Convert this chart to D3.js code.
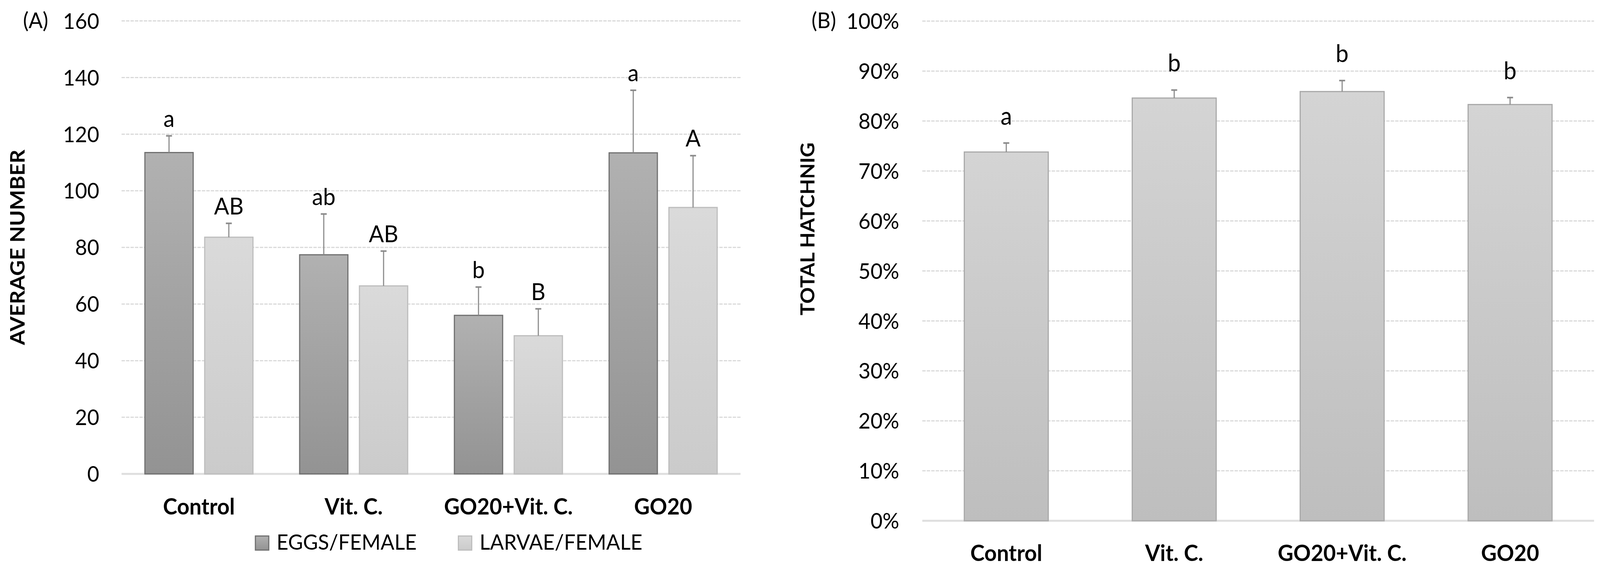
<!DOCTYPE html>
<meta charset="utf-8">
<html>
<head>
<script src="https://cdn.jsdelivr.net/npm/d3@7/dist/d3.min.js"></script>
<style>
  html, body { margin: 0; padding: 0; background: #fff; overflow: hidden; }
  #chart svg { display: block; width: 100vw; height: 100vh; }
  text { font-family: Lato, "Open Sans", sans-serif; fill: #000; }
</style>
</head>
<body>
<div id="chart"></div>
<script>
// ---- data ----
var categories = ["Control", "Vit. C.", "GO20+Vit. C.", "GO20"];
var seriesA = ["EGGS/FEMALE", "LARVAE/FEMALE"];
var eggs = [113.5, 77.4, 56.0, 113.4];
var eggsErr = [5.9, 14.4, 10.0, 22.1];
var larvae = [83.6, 66.4, 48.8, 94.1];
var larvaeErr = [4.9, 12.3, 9.5, 18.3];
var eggsLetters = ["a", "ab", "b", "a"];
var larvaeLetters = ["AB", "AB", "B", "A"];
var ticksA = [0, 20, 40, 60, 80, 100, 120, 140, 160];

var hatching = [0.738, 0.846, 0.859, 0.833];
var hatchingErr = [0.018, 0.016, 0.022, 0.014];
var hatchingLetters = ["a", "b", "b", "b"];
var ticksB = [0, 0.1, 0.2, 0.3, 0.4, 0.5, 0.6, 0.7, 0.8, 0.9, 1.0];

// drawn in the reference's 4304x1459 frame, stretched to whatever viewport we get
var W = 4304, H = 1459;
var svg = d3.select("#chart").append("svg")
  .attr("viewBox", "0 0 " + W + " " + H)
  .attr("preserveAspectRatio", "none");

var defs = svg.append("defs");
function grad(id, top, bottom) {
  var g = defs.append("linearGradient").attr("id", id).attr("x1", 0).attr("y1", 0).attr("x2", 0).attr("y2", 1);
  g.append("stop").attr("offset", "0%").attr("stop-color", top);
  g.append("stop").attr("offset", "100%").attr("stop-color", bottom);
}
grad("gEggs", "#b1b1b1", "#939393");
grad("gLarvae", "#dadada", "#cbcbcb");
grad("gHatch", "#d4d4d4", "#bebebe");

var seriesStyle = [
  { fill: "url(#gEggs)", stroke: "#6f6f6f" },
  { fill: "url(#gLarvae)", stroke: "#bdbdbd" }
];

function gridAndAxis(g, y, ticks, x0, x1, fmt, labelX) {
  g.selectAll(".grid").data(ticks.filter(function (d) { return d > 0; })).enter().append("line")
    .attr("x1", x0).attr("x2", x1).attr("y1", function (d) { return y(d); }).attr("y2", function (d) { return y(d); })
    .style("stroke", "#d9d9d9").style("stroke-width", 3).style("stroke-dasharray", "9,3");
  g.append("line").attr("x1", x0).attr("x2", x1).attr("y1", y(0)).attr("y2", y(0))
    .style("stroke", "#dedede").style("stroke-width", 5);
  g.selectAll(".tick").data(ticks).enter().append("text")
    .attr("x", labelX).attr("y", function (d) { return y(d); }).attr("dy", "0.36em")
    .attr("text-anchor", "end").style("font-size", "56px").text(fmt);
}

function errBar(g, cx, yTop, yErr) {
  g.append("line").attr("x1", cx).attr("x2", cx).attr("y1", yTop).attr("y2", yErr)
    .style("stroke", "#8a8a8a").style("stroke-width", 3);
  g.append("line").attr("x1", cx - 8).attr("x2", cx + 8).attr("y1", yErr).attr("y2", yErr)
    .style("stroke", "#8a8a8a").style("stroke-width", 4);
}

// ================= panel A =================
var gA = svg.append("g");
var xA = d3.scaleBand().domain(categories).range([327, 1992]);
var xA1 = d3.scaleBand().domain(seriesA).range([0, xA.bandwidth()]).paddingInner(0.1925).paddingOuter(0.39);
var yA = d3.scaleLinear().domain([0, 160]).range([1213, 53.5]);

gridAndAxis(gA, yA, ticksA, 327, 1992, d3.format("d"), 267);

var rowsA = categories.map(function (c, i) {
  return [
    { cat: c, s: seriesA[0], k: 0, v: eggs[i], e: eggsErr[i], l: eggsLetters[i] },
    { cat: c, s: seriesA[1], k: 1, v: larvae[i], e: larvaeErr[i], l: larvaeLetters[i] }
  ];
});
var flatA = d3.merge(rowsA);

gA.selectAll(".barA").data(flatA).enter().append("rect")
  .attr("x", function (d) { return xA(d.cat) + xA1(d.s); })
  .attr("y", function (d) { return yA(d.v); })
  .attr("width", xA1.bandwidth())
  .attr("height", function (d) { return yA(0) - yA(d.v); })
  .style("fill", function (d) { return seriesStyle[d.k].fill; })
  .style("stroke", function (d) { return seriesStyle[d.k].stroke; })
  .style("stroke-width", 3);

flatA.forEach(function (d) {
  var cx = xA(d.cat) + xA1(d.s) + xA1.bandwidth() / 2;
  errBar(gA, cx, yA(d.v), yA(d.v + d.e));
  gA.append("text").attr("x", cx).attr("y", yA(d.v + d.e) - 23)
    .attr("text-anchor", "middle").style("font-size", "60px").text(d.l);
});

gA.selectAll(".catA").data(categories).enter().append("text")
  .attr("x", function (d) { return xA(d) + xA.bandwidth() / 2; })
  .attr("y", 1317).attr("text-anchor", "middle")
  .style("font-size", "58px").style("font-weight", "bold").text(function (d) { return d; });

gA.append("text").attr("transform", "translate(66,633) rotate(-90)")
  .attr("text-anchor", "middle").style("font-size", "55px").style("font-weight", "bold").text("AVERAGE NUMBER");

gA.append("text").attr("x", 62).attr("y", 72).style("font-size", "56px").text("(A)");

// legend
var legendX = [687, 1233];
seriesA.forEach(function (s, i) {
  gA.append("rect").attr("x", legendX[i]).attr("y", 1372).attr("width", 36).attr("height", 36)
    .style("fill", seriesStyle[i].fill).style("stroke", seriesStyle[i].stroke).style("stroke-width", 3);
  gA.append("text").attr("x", legendX[i] + 57).attr("y", 1407).style("font-size", "55px").text(s);
});

// ================= panel B =================
var gB = svg.append("g");
var xB = d3.scaleBand().domain(categories).range([2481, 4288]).paddingInner(0.5).paddingOuter(0.25);
var yB = d3.scaleLinear().domain([0, 1]).range([1333, 54]);

gridAndAxis(gB, yB, ticksB, 2481, 4288, d3.format(".0%"), 2419);

var rowsB = categories.map(function (c, i) {
  return { cat: c, v: hatching[i], e: hatchingErr[i], l: hatchingLetters[i] };
});

gB.selectAll(".barB").data(rowsB).enter().append("rect")
  .attr("x", function (d) { return xB(d.cat); })
  .attr("y", function (d) { return yB(d.v); })
  .attr("width", xB.bandwidth())
  .attr("height", function (d) { return yB(0) - yB(d.v); })
  .style("fill", "url(#gHatch)").style("stroke", "#a9a9a9").style("stroke-width", 3);

rowsB.forEach(function (d) {
  var cx = xB(d.cat) + xB.bandwidth() / 2;
  errBar(gB, cx, yB(d.v), yB(d.v + d.e));
  gB.append("text").attr("x", cx).attr("y", yB(d.v + d.e) - 47)
    .attr("text-anchor", "middle").style("font-size", "62px").text(d.l);
});

gB.selectAll(".catB").data(categories).enter().append("text")
  .attr("x", function (d) { return xB(d) + xB.bandwidth() / 2; })
  .attr("y", 1436).attr("text-anchor", "middle")
  .style("font-size", "58px").style("font-weight", "bold").text(function (d) { return d; });

gB.append("text").attr("transform", "translate(2191,586) rotate(-90)")
  .attr("text-anchor", "middle").style("font-size", "52px").style("font-weight", "bold").text("TOTAL HATCHNIG");

gB.append("text").attr("x", 2183).attr("y", 72).style("font-size", "56px").text("(B)");
</script>
</body>
</html>
